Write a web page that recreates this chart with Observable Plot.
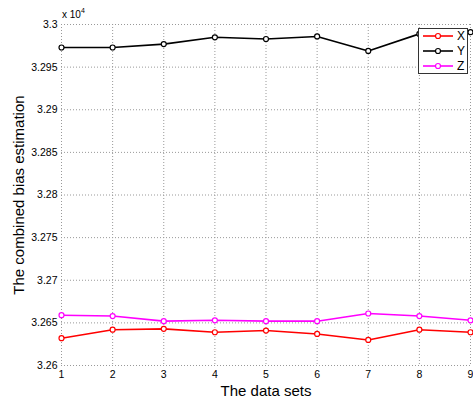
<!DOCTYPE html>
<html><head><meta charset="utf-8">
<script src="https://cdn.jsdelivr.net/npm/d3@7"></script>
<script src="https://cdn.jsdelivr.net/npm/@observablehq/plot@0.6"></script>
<style>
html,body{margin:0;padding:0;background:#fff;}
body{font-family:"Liberation Sans",Arial,sans-serif;}
#wrap{position:relative;width:473px;height:401px;overflow:hidden;}
#expo{position:absolute;left:62px;top:8px;font-size:10px;color:#000;}
#expo sup{font-size:7px;position:relative;top:-1px;}
#legend{position:absolute;left:418px;top:28px;width:50px;height:46px;background:#fff;border:1px solid #333;box-sizing:border-box;}
.lg{position:absolute;left:0;height:14px;display:flex;align-items:center;font-size:12px;}
.lg svg{display:block;margin-left:4px;margin-right:4px;}
</style>
</head><body><div id="wrap"></div>
<script>
const dataSets = [1, 2, 3, 4, 5, 6, 7, 8, 9];
const seriesX = [32632, 32642, 32643, 32639, 32641, 32637, 32630, 32642, 32639];
const seriesY = [32973, 32973, 32977, 32985, 32983, 32986, 32969, 32989, 32991];
const seriesZ = [32659, 32658, 32652, 32653, 32652, 32652, 32661, 32658, 32653];
const seriesNames = ["X", "Y", "Z"];
const seriesColors = ["#ff0000", "#000000", "#ff00ff"];
const yTicks = [32600, 32650, 32700, 32750, 32800, 32850, 32900, 32950, 33000];
const xTicks = [1, 2, 3, 4, 5, 6, 7, 8, 9];
const xLabel = "The data sets";
const yLabel = "The combined bias estimation";

const allSeries = [seriesX, seriesY, seriesZ];
const rows = [];
allSeries.forEach((vals, i) => vals.forEach((v, j) => rows.push({set: dataSets[j], value: v, series: seriesNames[i]})));

const chart = Plot.plot({
  width: 473,
  height: 401,
  marginLeft: 61,
  marginRight: 3,
  marginTop: 24,
  marginBottom: 36,
  style: {fontFamily: '"Liberation Sans", Arial, sans-serif', fontSize: "10px", background: "#fff", color: "#000", overflow: "visible"},
  x: {domain: [1, 9]},
  y: {domain: [32600, 33000]},
  color: {domain: seriesNames, range: seriesColors},
  marks: [
    Plot.gridX(xTicks, {stroke: "#999", strokeOpacity: 1, strokeDasharray: "1,2"}),
    Plot.gridY(yTicks, {stroke: "#999", strokeOpacity: 1, strokeDasharray: "1,2"}),
    Plot.axisX(xTicks, {tickSize: 0, tickPadding: 5, line: true, stroke: "#444", label: xLabel, labelAnchor: "center", labelArrow: "none", labelOffset: 30, fontSize: 10.5}),
    Plot.axisY(yTicks, {tickSize: 0, tickPadding: 4, line: true, stroke: "#444", tickFormat: d => String(d / 1e4), label: yLabel, labelAnchor: "center", labelArrow: "none", labelOffset: 48, fontSize: 10.5}),
    Plot.line(rows, {x: "set", y: "value", z: "series", stroke: "series", strokeWidth: 1.6}),
    Plot.dot(rows, {x: "set", y: "value", stroke: "series", fill: "white", r: 2.5, strokeWidth: 1.2})
  ]
});
// enlarge axis labels
d3.select(chart).selectAll("[aria-label='x-axis label'] text, [aria-label='y-axis label'] text").style("font-size", "15px");

const wrap = document.getElementById("wrap");
wrap.appendChild(chart);

const expo = document.createElement("div");
expo.id = "expo";
expo.innerHTML = "x 10<sup>4</sup>";
wrap.appendChild(expo);

const legend = document.createElement("div");
legend.id = "legend";
seriesNames.forEach((name, i) => {
  const row = document.createElement("div");
  row.className = "lg";
  row.style.top = (0 + i * 15) + "px";
  const c = seriesColors[i];
  row.innerHTML = `<svg width="30" height="10"><line x1="0" x2="30" y1="5" y2="5" stroke="${c}" stroke-width="1.6"/><circle cx="15" cy="5" r="2.5" fill="white" stroke="${c}" stroke-width="1.2"/></svg><span>${name}</span>`;
  legend.appendChild(row);
});
wrap.appendChild(legend);
</script>
</body></html>
